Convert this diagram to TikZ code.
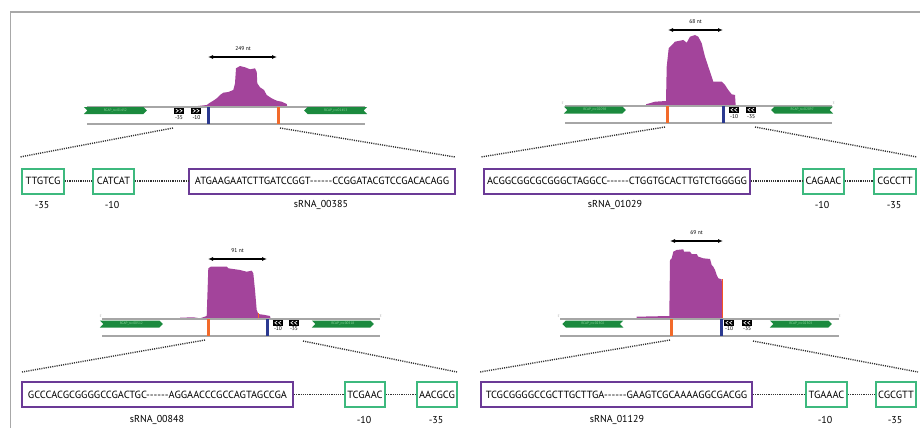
\documentclass[tikz,border=0pt]{standalone}
\usepackage{fontspec}
\setmainfont{PT Sans}[Ligatures=TeXOff]
\usetikzlibrary{arrows.meta,shapes.symbols}
\definecolor{boxgreen}{HTML}{3DB97E}
\definecolor{boxpurple}{HTML}{6B3A96}
\definecolor{covpurple}{HTML}{A3449B}
\definecolor{genegreen}{HTML}{1B8A3E}
\definecolor{genetext}{HTML}{8FD89F}
\definecolor{barorange}{HTML}{F26A2A}
\definecolor{barblue}{HTML}{2B3990}
\definecolor{trackgray}{HTML}{A6A6A6}
\definecolor{framegray}{HTML}{A8A8A8}
\definecolor{dotgray}{HTML}{333333}
\tikzset{
  seqbox/.style={draw, line width=2pt, minimum height=25pt, inner sep=0pt, anchor=west,
    font=\fontsize{10.4}{11}\selectfont},
  greenbox/.style={seqbox, draw=boxgreen},
  purplebox/.style={seqbox, draw=boxpurple},
  lab/.style={inner sep=0pt, font=\fontsize{10}{11}\selectfont},
  smalllab/.style={inner sep=0pt, font=\fontsize{5.5}{6}\selectfont},
  endlab/.style={inner sep=0pt, font=\fontsize{3.5}{4}\selectfont, text=trackgray},
  dots/.style={dash pattern=on 1.1pt off 1.1pt, line width=1.4pt, dotgray},
  track/.style={trackgray, line width=1.1pt},
  cov/.style={fill=covpurple, draw=none},
  ntarrow/.style={{Latex[length=5pt,width=4pt]}-{Latex[length=5pt,width=4pt]}, line width=1.1pt},
  gene/.style={shape=signal, fill=genegreen, draw=none, minimum height=7pt, inner sep=0pt,
    text=genetext, font=\fontsize{3.5}{4}\selectfont},
  promR/.pic={\fill[black] (0,0) rectangle (10,5.5);
    \draw[white, line width=.6pt] (1.8,1)--(4.3,2.75)--(1.8,4.5) (5.6,1)--(8.1,2.75)--(5.6,4.5);},
  promL/.pic={\fill[black] (0,0) rectangle (10,5.5);
    \draw[white, line width=.6pt] (4.3,1)--(1.8,2.75)--(4.3,4.5) (8.1,1)--(5.6,2.75)--(8.1,4.5);}
}
\begin{document}
\begin{tikzpicture}[x=1pt,y=-1pt]
\useasboundingbox (0,0) rectangle (920,428);
\draw[framegray, line width=1.3pt] (920,12) -- (10.5,12) -- (10.5,428);

% ================= Panel 1 =================
\fill[cov] (198,107) -- (198,106) -- (206.7,105) -- (210,102.7) -- (213.3,100.7) -- (216.7,98.3) -- (220,95) -- (223.3,92.7) -- (228.3,92) -- (233.3,90) -- (235,83.3) -- (236,68.3) -- (240,66) -- (245,67.3) -- (250,69.3) -- (255,68.3) -- (256.7,71.7) -- (257.3,83.3) -- (260,87.3) -- (264,90) -- (266.7,95) -- (271.7,98.3) -- (276.7,100.7) -- (281.7,101.7) -- (286.7,104) -- (287.3,107) -- cycle;
\draw[track] (87,107) -- (365,107);
\draw[track] (87,124) -- (365,124);
\coordinate (p1nl) at (208,57);
\coordinate (p1nr) at (277,57);
\draw[ntarrow] (p1nl) -- (p1nr);
\node[smalllab] (p1nt) at (243,49) {249 nt};
\node[gene, signal from=west, signal to=east, minimum width=63pt, anchor=west] (p1g1) at (87,110.5) {RCAP\_rcc01452};
\node[gene, signal from=east, signal to=west, minimum width=63pt, anchor=east] (p1g2) at (364,110.5) {RCAP\_rcc01453};
\pic at (174,108) {promR};
\pic at (191,108) {promR};
\node[smalllab] (p1m35) at (179,118) {-35};
\node[smalllab] (p1m10) at (196.5,118) {-10};
\fill[barblue] (207,107) rectangle (209.7,124);
\fill[barorange] (277,107) rectangle (279.7,124);
\coordinate (p1dl) at (173,128);
\coordinate (p1dr) at (280,128);
\coordinate (p1el) at (20,157);
\coordinate (p1er) at (455,157);
\draw[dots] (p1dl) -- (p1el);
\draw[dots] (p1dr) -- (p1er);
\node[greenbox, minimum width=42pt] (p1a) at (21,181) {TTGTCG};
\node[greenbox, minimum width=41pt] (p1b) at (92,181) {CATCAT};
\node[purplebox, minimum width=266pt] (p1c) at (188,181) {ATGAAGAATCTTGATCCGGT------CCGGATACGTCCGACACAGG};
\draw[dots] (p1a.east) -- (p1b.west);
\draw[dots] (p1b.east) -- (p1c.west);
\node[lab] (p1la) at (42,205) {-35};
\node[lab] (p1lb) at (112,205) {-10};
\node[lab] (p1lc) at (321,205) {sRNA\_00385};

% ================= Panel 2 =================
\fill[cov] (646,106) -- (646,104.3) -- (655,101.7) -- (666,101) -- (666.7,66.7) -- (668.7,48.3) -- (675,41.7) -- (683.3,40) -- (686.7,42.7) -- (690,36.7) -- (695,35) -- (698.3,36.7) -- (701.7,43.3) -- (705,56.7) -- (708.3,66.7) -- (710,71.7) -- (713.3,81.7) -- (721.7,81.7) -- (725,85) -- (728.3,90) -- (731.7,94.3) -- (735,95) -- (735.7,106) -- cycle;
\draw[track] (565,106) -- (832,106);
\draw[track] (565,123) -- (832,123);
\node[endlab] (p2e5) at (563,103) {5'};
\node[endlab] (p2e3) at (834,103) {3'};
\coordinate (p2nl) at (668,30);
\coordinate (p2nr) at (723,30);
\draw[ntarrow] (p2nl) -- (p2nr);
\node[smalllab] (p2nt) at (695.5,22) {68 nt};
\node[gene, signal from=west, signal to=east, minimum width=62pt, anchor=west] (p2g1) at (567,110) {RCAP\_rcc02098};
\node[gene, signal from=east, signal to=west, minimum width=62pt, anchor=east] (p2g2) at (830,110) {RCAP\_rcc02097};
\pic at (729,107) {promL};
\pic at (746,107) {promL};
\node[smalllab] (p2m10) at (734,117) {-10};
\node[smalllab] (p2m35) at (751,117) {-35};
\fill[barorange] (666,106) rectangle (668.7,123);
\fill[barblue] (722,106) rectangle (724.7,123);
\coordinate (p2dl) at (665,127);
\coordinate (p2dr) at (755,127);
\coordinate (p2el) at (481,157);
\coordinate (p2er) at (917,157);
\draw[dots] (p2dl) -- (p2el);
\draw[dots] (p2dr) -- (p2er);
\node[purplebox, minimum width=266pt] (p2c) at (483,181) {ACGGCGGCGCGGGCTAGGCC------CTGGTGCACTTGTCTGGGGG};
\node[greenbox, minimum width=41pt] (p2b) at (802,181) {CAGAAC};
\node[greenbox, minimum width=42pt] (p2a) at (873,181) {CGCCTT};
\draw[dots] (p2c.east) -- (p2b.west);
\draw[dots] (p2b.east) -- (p2a.west);
\node[lab] (p2lc) at (615,205) {sRNA\_01029};
\node[lab] (p2lb) at (822,205) {-10};
\node[lab] (p2la) at (894,205) {-35};

% ================= Panel 3 =================
\fill[cov] (180,319) -- (180,317.7) -- (193.3,317.3) -- (200,318.3) -- (206.7,316) -- (208.3,268.3) -- (210.7,266.7) -- (226.7,266.7) -- (228.3,268.3) -- (240,270) -- (246.7,271.7) -- (251.7,270.7) -- (253.3,273.3) -- (255,290) -- (256.7,310) -- (258.3,314) -- (265,315) -- (270,316) -- (270.7,319) -- cycle;
\draw[barorange, line width=.8pt] (258,313) -- (258,319);
\draw[track] (102,319) -- (380,319);
\draw[track] (102,336) -- (380,336);
\node[endlab] (p3e5) at (101,316) {5'};
\node[endlab] (p3e3) at (381,316) {3'};
\coordinate (p3nl) at (208,259);
\coordinate (p3nr) at (267,259);
\draw[ntarrow] (p3nl) -- (p3nr);
\node[smalllab] (p3nt) at (237.5,251) {91 nt};
\node[gene, signal from=west, signal to=east, minimum width=63pt, anchor=west] (p3g1) at (103,324) {RCAP\_rcc00512};
\node[gene, signal from=west, signal to=east, minimum width=62pt, anchor=west] (p3g2) at (315,324) {RCAP\_rcc00518};
\pic at (273,320) {promL};
\pic at (289,320) {promL};
\node[smalllab] (p3m10) at (278,329) {-10};
\node[smalllab] (p3m35) at (294,329) {-35};
\fill[barorange] (207,319) rectangle (209.7,336);
\fill[barblue] (266,319) rectangle (268.9,336);
\coordinate (p3dl) at (205,340);
\coordinate (p3dr) at (303,341);
\coordinate (p3el) at (22,372);
\coordinate (p3er) at (457,372);
\draw[dots] (p3dl) -- (p3el);
\draw[dots] (p3dr) -- (p3er);
\node[purplebox, minimum width=271pt] (p3c) at (21,394.5) {GCCCACGCGGGGCCGACTGC------AGGAACCCGCCAGTAGCCGA};
\node[greenbox, minimum width=40pt] (p3b) at (344,394.5) {TCGAAC};
\node[greenbox, minimum width=40pt] (p3a) at (416,394.5) {AACGCG};
\draw[dots] (p3c.east) -- (p3b.west);
\draw[dots] (p3b.east) -- (p3a.west);
\node[lab] (p3lc) at (157,420) {sRNA\_00848};
\node[lab] (p3lb) at (364,420) {-10};
\node[lab] (p3la) at (436,420) {-35};

% ================= Panel 4 =================
\fill[cov] (636.7,319) -- (636.7,316.7) -- (669.3,316) -- (670,260) -- (671.7,258.3) -- (673.3,251.7) -- (676.7,250) -- (683.3,249.3) -- (684,251.7) -- (690,251.7) -- (691.7,254) -- (696.7,254) -- (698.3,256.7) -- (703.3,258.3) -- (710,259) -- (711.7,265) -- (713.3,266.7) -- (715,270) -- (716.7,275) -- (718.3,278.3) -- (721.7,279.3) -- (722.7,319) -- cycle;
\draw[barorange!80!red, line width=.9pt] (722.2,279.3) -- (722.2,319);
\draw[track] (560,319) -- (839,319);
\draw[track] (560,336) -- (839,336);
\node[endlab] (p4e5) at (559,316) {5'};
\node[endlab] (p4e3) at (840,316) {3'};
\coordinate (p4nl) at (670,241);
\coordinate (p4nr) at (723,241);
\draw[ntarrow] (p4nl) -- (p4nr);
\node[smalllab] (p4nt) at (696.5,233) {69 nt};
\node[gene, signal from=east, signal to=west, minimum width=61pt, anchor=west] (p4g1) at (562,324) {RCAP\_rcc02302};
\node[gene, signal from=west, signal to=east, minimum width=62pt, anchor=west] (p4g2) at (773,324) {RCAP\_rcc02303};
\pic at (724,320) {promL};
\pic at (742,320) {promL};
\node[smalllab] (p4m10) at (729,329) {-10};
\node[smalllab] (p4m35) at (747,329) {-35};
\fill[barorange] (670,319) rectangle (672.7,336);
\fill[barblue] (720,319) rectangle (722.9,336);
\coordinate (p4dl) at (670,340);
\coordinate (p4dr) at (753,341);
\coordinate (p4el) at (480,372);
\coordinate (p4er) at (918,372);
\draw[dots] (p4dl) -- (p4el);
\draw[dots] (p4dr) -- (p4er);
\node[purplebox, minimum width=271pt] (p4c) at (480,394.5) {TCGCGGGGCCGCTTGCTTGA------GAAGTCGCAAAAGGCGACGG};
\node[greenbox, minimum width=41pt] (p4b) at (805,394.5) {TGAAAC};
\node[greenbox, minimum width=40pt] (p4a) at (875,394.5) {CGCGTT};
\draw[dots] (p4c.east) -- (p4b.west);
\draw[dots] (p4b.east) -- (p4a.west);
\node[lab] (p4lc) at (617,420) {sRNA\_01129};
\node[lab] (p4lb) at (825,420) {-10};
\node[lab] (p4la) at (895,420) {-35};
\end{tikzpicture}
\end{document}
